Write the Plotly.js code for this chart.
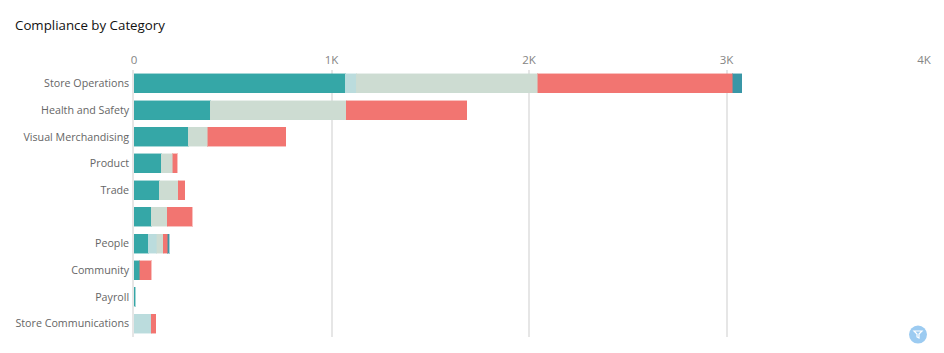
<!DOCTYPE html>
<html><head><meta charset="utf-8">
<script src="https://cdn.plot.ly/plotly-3.0.1.min.js"></script>
<style>html,body{margin:0;padding:0;background:#fff}#c{width:944px;height:353px}</style></head>
<body><div id="c"></div>
<script>
const categories=['Store Operations','Health and Safety','Visual Merchandising','Product','Trade','\u00a0','People','Community','Payroll','Store Communications'];
const teal=[1069,387,275,139,129,88,71,28,7,0];
const lightBlue=[56,0,0,0,0,0,43,0,0,88];
const sage=[920,687,99,56,96,81,35,0,0,0];
const red=[986,612,394,25,33,127,23,60,0,23];
const darkTeal=[45,0,0,0,0,0,7,0,0,0];
const tickValues=[0,1000,2000,3000,4000];
const tickLabels=['0','1K','2K','3K','4K'];
const seriesList=[[teal,'#35a7a7','rgba(53,167,167,0.45)'],[lightBlue,'#bbdcdd','rgba(187,220,221,0.45)'],[sage,'#cddcd2','rgba(205,220,210,0.45)'],[red,'#f27571','rgba(242,117,113,0.45)'],[darkTeal,'#3a96a6','rgba(58,150,166,0.45)']];
const traces=seriesList.map(s=>({type:'bar',orientation:'h',y:categories,x:s[0].map(v=>v||null),marker:{color:s[1],line:{color:s[2],width:1}},hoverinfo:'x+y'}));
const layout={
 width:944,height:353,barmode:'stack',bargap:0.29,showlegend:false,
 paper_bgcolor:'#fff',plot_bgcolor:'#fff',
 font:{family:'"Open Sans",sans-serif',size:11,color:'#666'},
 margin:{l:133.5,r:20,t:69.6,b:15.6},
 title:{text:'Compliance by Category',x:15/944,xanchor:'left',y:1-25/353,yanchor:'middle',font:{family:'"Open Sans",sans-serif',size:13.3,color:'#111'}},
 xaxis:{side:'top',range:[0,4000],tickvals:tickValues,ticktext:tickLabels,showgrid:true,gridcolor:'#e6e6e6',gridwidth:1.5,zeroline:false,showline:false,ticks:'',ticklabelstandoff:3,tickfont:{size:11.5,color:'#858585'}},
 yaxis:{type:'category',autorange:'reversed',categoryorder:'array',categoryarray:categories,showgrid:false,zeroline:false,showline:true,linecolor:'#e6e6e6',linewidth:1.5,ticks:'',ticklabelstandoff:1,tickfont:{size:10.7,color:'#666'}},
 shapes:[
  {type:'circle',xref:'paper',yref:'paper',xsizemode:'pixel',ysizemode:'pixel',xanchor:1.0,yanchor:0,x0:-15,x1:3,y0:-6.6,y1:11.4,fillcolor:'#9ccbf1',line:{width:0},layer:'above'},
  {type:'path',xref:'paper',yref:'paper',xsizemode:'pixel',ysizemode:'pixel',xanchor:1.0,yanchor:0,path:'M -10 6 L -2 6 L -5 3 L -5 -1 L -7 0 L -7 3 Z',fillcolor:'rgba(0,0,0,0)',line:{color:'#fff',width:1.2},layer:'above'}
 ]
};
Plotly.newPlot('c',traces,layout,{displayModeBar:false,responsive:false});
</script></body></html>
